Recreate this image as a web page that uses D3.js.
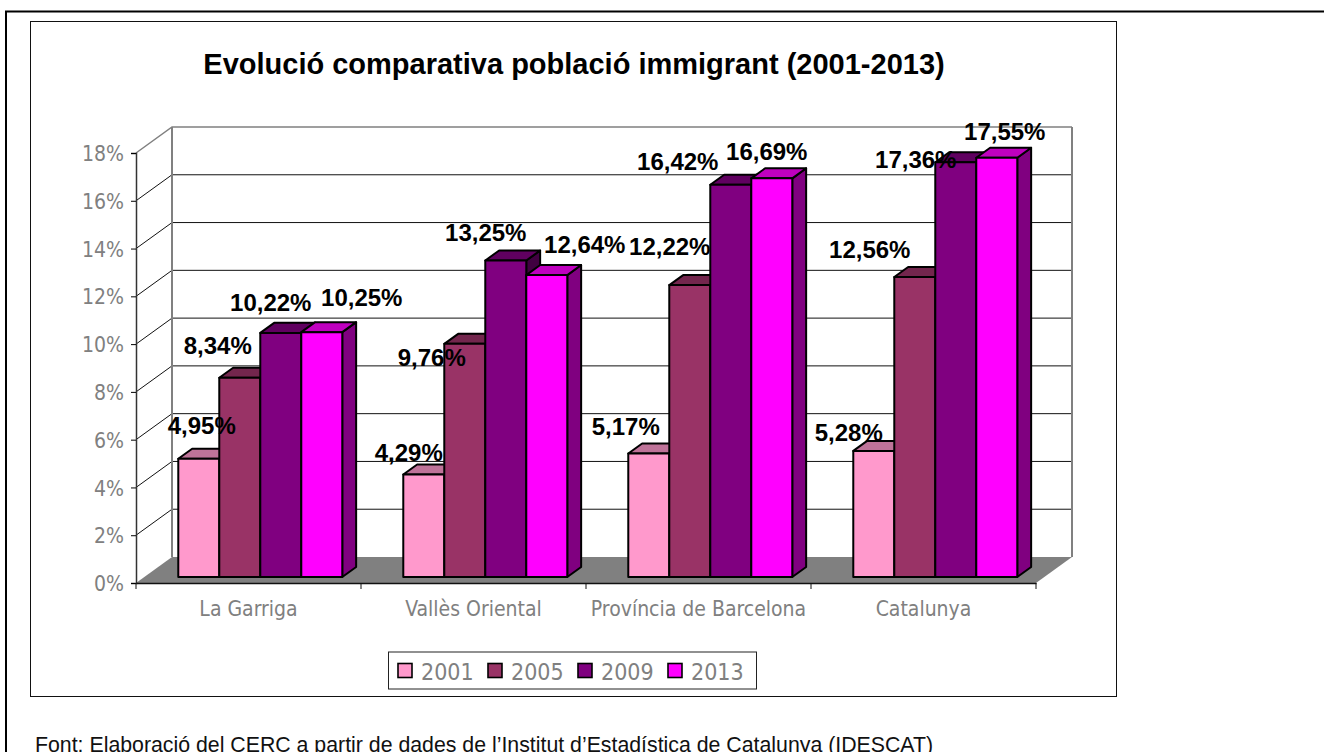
<!DOCTYPE html>
<html lang="ca">
<head>
  <meta charset="UTF-8">
  <title>Evolució comparativa població immigrant (2001-2013)</title>
  <script src="https://d3js.org/d3.v7.min.js"></script>
  <style>
    html, body { margin: 0; padding: 0; background: #fff; overflow: hidden; }
    svg { display: block; }
    .arial { font-family: "Liberation Sans", Arial, sans-serif; }
    .soft { font-family: "DejaVu Sans", sans-serif; font-stretch: condensed; fill: #808080; }
  </style>
</head>
<body>
<div id="viz"></div>

<script>
// Data
var categories = ["La Garriga", "Vallès Oriental", "Província de Barcelona", "Catalunya"];
var years = ["2001", "2005", "2009", "2013"];
var values2001 = [4.95, 4.29, 5.17, 5.28];
var values2005 = [8.34, 9.76, 12.22, 12.56];
var values2009 = [10.22, 13.25, 16.42, 17.36];
var values2013 = [10.25, 12.64, 16.69, 17.55];
var yTicks = [0, 2, 4, 6, 8, 10, 12, 14, 16, 18];
var colors = ["#FF99CC", "#993366", "#800080", "#FF00FF"];

var series = [values2001, values2005, values2009, values2013];

// hand placed label offsets from the top of each bar, per year then per category
var labelNudge = [
  [[3, -25], [-15, -14], [-23, -19], [-25, -10]],
  [[-22, -24], [-33, 22], [-20, -30], [-45, -19]],
  [[-10, -22], [-20, -19], [-53, -15], [-40, 6]],
  [[40, -26], [38, -22], [-5, -18], [8, -18]]
];

var svg = d3.select("#viz").append("svg")
    .attr("width", 1324)
    .attr("height", 752);

// page frame and chart box
svg.append("path")
    .attr("d", "M6,752V11.5H1324")
    .attr("fill", "none")
    .attr("stroke", "#000")
    .attr("stroke-width", 2);
svg.append("rect")
    .attr("x", 30.5).attr("y", 21.5)
    .attr("width", 1086).attr("height", 675)
    .attr("fill", "#fff")
    .attr("stroke", "#111");

svg.append("text")
    .attr("class", "arial")
    .attr("x", 574).attr("y", 74)
    .attr("text-anchor", "middle")
    .style("font-size", "29px")
    .style("font-weight", "bold")
    .text("Evolució comparativa població immigrant (2001-2013)");

// Scales: front plane of the chart, depth goes up and to the right
var x = d3.scaleBand().domain(categories).range([136, 1036]);
var y = d3.scaleLinear().domain([0, 18]).range([583, 153]);
var depthX = 36, depthY = -26;
var barFront = 0.23, barBack = 0.615;
var groupX = d3.scaleBand().domain(years).range([34, 198]);

var right = x.range()[1];

// floor
svg.append("polygon")
    .attr("points", [
      [x.range()[0], y(0)],
      [x.range()[0] + depthX, y(0) + depthY],
      [right + depthX, y(0) + depthY],
      [right, y(0)]
    ].join(" "))
    .attr("fill", "#808080");

// gridlines on the side and back walls
var grid = svg.append("g");
yTicks.slice(1).forEach(function(t) {
  var top = t === 18;
  grid.append("path")
      .attr("d", "M136," + y(t) + "L" + (136 + depthX) + "," + (y(t) + depthY) + "H" + (right + depthX))
      .attr("fill", "none")
      .attr("stroke", top ? "#808080" : "#111")
      .attr("stroke-width", top ? 1.5 : 1);
});
[136 + depthX, right + depthX].forEach(function(px) {
  grid.append("line")
      .attr("x1", px).attr("x2", px)
      .attr("y1", y(18) + depthY).attr("y2", y(0) + depthY)
      .attr("stroke", "#808080")
      .attr("stroke-width", 2);
});

// axes
var yAxis = svg.append("g")
    .attr("transform", "translate(136,0)")
    .call(d3.axisLeft(y).tickValues(yTicks).tickSize(5).tickPadding(7).tickFormat(d => d + "%"));
var xAxis = svg.append("g")
    .attr("transform", "translate(0," + y(0) + ")")
    .call(d3.axisBottom(x).tickSize(0).tickPadding(18));
xAxis.selectAll(".domain").attr("stroke", "#111").attr("stroke-width", 1.5);
yAxis.selectAll(".domain").attr("stroke", "#333").attr("stroke-width", 1.5);
yAxis.selectAll("text").attr("class", "soft").style("font-size", "21px").attr("dy", "0.36em");
xAxis.selectAll("text").attr("class", "soft").style("font-size", "21px");
xAxis.selectAll("line").remove();
categories.concat([null]).forEach(function(c) {
  var px = c === null ? right : x(c);
  xAxis.append("line")
      .attr("x1", px).attr("x2", px)
      .attr("y1", 0).attr("y2", 6)
      .attr("stroke", "#111");
});

// 3D bars, drawn left to right so each one overlaps the previous
function shade(color, k) {
  var c = d3.rgb(color);
  return d3.rgb(c.r * k, c.g * k, c.b * k).formatHex();
}
var barsLayer = svg.append("g").attr("stroke", "#000").attr("stroke-width", 2).attr("stroke-linejoin", "round");
var labels = [];
categories.forEach(function(cat, ci) {
  years.forEach(function(year, si) {
    var v = series[si][ci];
    var x0 = x(cat) + groupX(year) + depthX * barFront;
    var x1 = x0 + groupX.bandwidth();
    var yBase = y(0) + depthY * barFront;
    var yTop = y(v) + depthY * barFront;
    var dx = depthX * (barBack - barFront);
    var dy = depthY * (barBack - barFront);
    var g = barsLayer.append("g");
    g.append("polygon")
        .attr("points", [[x1, yBase], [x1 + dx, yBase + dy], [x1 + dx, yTop + dy], [x1, yTop]].join(" "))
        .attr("fill", shade(colors[si], 0.5));
    g.append("polygon")
        .attr("points", [[x0, yTop], [x0 + dx, yTop + dy], [x1 + dx, yTop + dy], [x1, yTop]].join(" "))
        .attr("fill", shade(colors[si], 0.75));
    g.append("rect")
        .attr("x", x0).attr("y", yTop)
        .attr("width", x1 - x0).attr("height", yBase - yTop)
        .attr("fill", colors[si]);
    labels.push({
      x: (x0 + x1) / 2 + labelNudge[si][ci][0],
      y: yTop + labelNudge[si][ci][1],
      text: v.toFixed(2).replace(".", ",") + "%"
    });
  });
});

// data labels sit above every bar
svg.append("g").selectAll("text")
  .data(labels)
  .enter()
  .append("text")
    .attr("class", "arial")
    .attr("x", d => d.x)
    .attr("y", d => d.y)
    .attr("text-anchor", "middle")
    .style("font-size", "24px")
    .style("font-weight", "bold")
    .text(d => d.text);

// legend
var legend = svg.append("g");
legend.append("rect")
    .attr("x", 388.5).attr("y", 652)
    .attr("width", 368).attr("height", 37)
    .attr("fill", "#fff")
    .attr("stroke", "#222");
var legendX = d3.scalePoint().domain(years).range([398, 668]);
years.forEach(function(year, i) {
  legend.append("rect")
      .attr("x", legendX(year)).attr("y", 663.5)
      .attr("width", 14).attr("height", 14)
      .attr("fill", colors[i])
      .attr("stroke", "#000")
      .attr("stroke-width", 1.6);
  legend.append("text")
      .attr("class", "soft")
      .attr("x", legendX(year) + 23).attr("y", 680)
      .style("font-size", "23px")
      .text(year);
});

svg.append("text")
    .attr("class", "arial")
    .attr("x", 35).attr("y", 752)
    .attr("fill", "#111")
    .style("font-size", "21.3px")
    .text("Font: Elaboració del CERC a partir de dades de l’Institut d’Estadística de Catalunya (IDESCAT)");
</script>

</body>
</html>
